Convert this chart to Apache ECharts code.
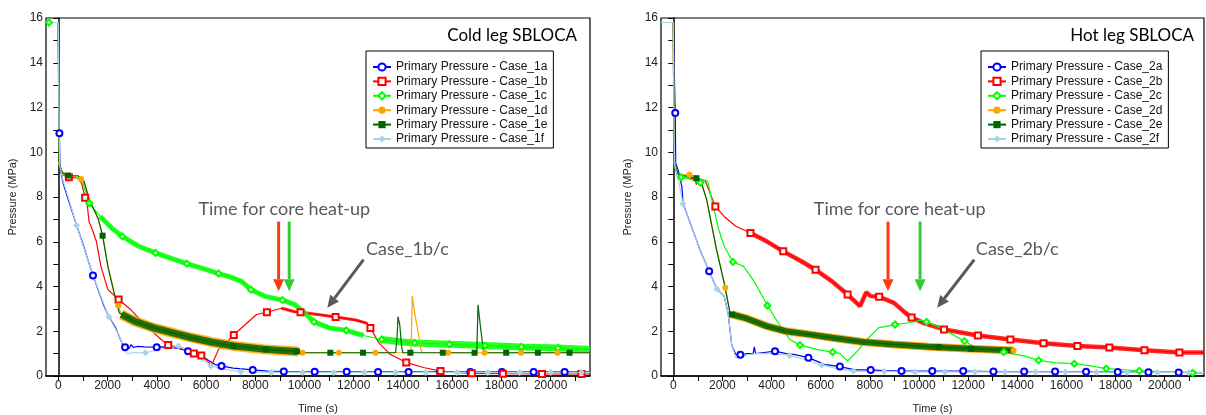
<!DOCTYPE html>
<html><head><meta charset="utf-8">
<script src="https://cdn.jsdelivr.net/npm/echarts@6/dist/echarts.min.js"></script>
<style>html,body{margin:0;padding:0;background:#fff}#c{width:1206px;height:415px}</style>
</head><body><div id="c"></div>
<script>
// ---------- axis ticks / labels ----------
const xTicks = [0,1000,2000,3000,4000,5000,6000,7000,8000,9000,10000,11000,12000,13000,14000,15000,16000,17000,18000,19000,20000,21000];
const xLabels = [0,2000,4000,6000,8000,10000,12000,14000,16000,18000,20000];
const yTicks = [0,1,2,3,4,5,6,7,8,9,10,11,12,13,14,15,16];
const yLabels = [0,2,4,6,8,10,12,14,16];

const namesCold = ['Primary Pressure - Case_1a','Primary Pressure - Case_1b','Primary Pressure - Case_1c','Primary Pressure - Case_1d','Primary Pressure - Case_1e','Primary Pressure - Case_1f'];
const namesHot  = ['Primary Pressure - Case_2a','Primary Pressure - Case_2b','Primary Pressure - Case_2c','Primary Pressure - Case_2d','Primary Pressure - Case_2e','Primary Pressure - Case_2f'];

// ---------- data: [time s, pressure MPa, marker flag] ----------
const case1a = [[-500,15.8],[0,15.8],[20,13],[45,10.85,1],[70,9.3],[200,8.6],[400,7.9],[745,6.73],[1000,5.9],[1200,5.2],[1410,4.49,1],[1650,3.75],[1850,3.15],[2060,2.64],[2330,2.15],[2500,1.7],[2630,1.34],[2712,1.29,1],[2800,1.38],[2870,1.22],[2950,1.4],[3050,1.28],[3200,1.32],[3500,1.3],[3998,1.29,1],[4400,1.3],[4800,1.25],[5270,1.11,1],[5600,1.0],[5950,0.8],[6350,0.52],[6630,0.45,1],[7100,0.35],[7900,0.27,1],[8500,0.22],[9160,0.2,1],[10414,0.19,1],[11716,0.19,1],[12990,0.18,1],[14230,0.18,1],[15500,0.18,1],[16740,0.18,1],[18020,0.18,1],[19310,0.18,1],[20570,0.18,1],[21600,0.18]];
const case1b = [[-500,15.8],[0,15.8],[25,9.5],[150,9.0],[430,8.88,1],[800,8.85],[950,8.6],[1090,7.97,1],[1180,7.6],[1250,6.9],[1395,6.5],[1550,6.0],[1730,4.9],[2015,3.86],[2450,3.42,1],[2940,2.97],[3570,2.23],[4180,1.63],[4465,1.38,1],[5125,1.22],[5505,1.01,1],[5810,0.92,1],[6120,0.6],[6230,0.48],[6510,1.19],[6815,1.49],[7130,1.83,1],[7595,2.3],[8055,2.75],[8475,2.85,1],[9070,3.03],[9610,2.87],[9840,2.85,1],[10540,2.75],[11265,2.64,1],[12085,2.5],[12555,2.35],[12680,2.15,1],[13015,1.49],[13480,0.97],[14135,0.6,1],[14880,0.37],[15530,0.22,1],[16280,0.15],[16800,0.12,1],[18060,0.1,1],[19650,0.09,1],[21250,0.09,1],[21600,0.09]];
const case1c = [[-500,15.8],[-380,15.8,1],[0,15.8],[25,9.5],[200,9.0],[700,8.9],[1000,8.6],[1262,7.72,1],[1700,7.13],[2170,6.61],[2600,6.24,1],[3255,5.8],[3950,5.5,1],[4650,5.23],[5220,5.02,1],[5890,4.8],[6510,4.58,1],[6970,4.43],[7440,4.23],[7825,3.86,1],[8370,3.57],[9110,3.39,1],[9610,3.19],[10075,2.75],[10385,2.42,1],[11005,2.15],[11700,2.04,1],[12400,1.81],[13140,1.63,1],[13950,1.52],[14480,1.48,1],[15890,1.42,1],[17340,1.36,1],[18810,1.3,1],[20300,1.25,1],[21600,1.18]];
const case1d = [[-500,15.8],[0,15.8],[25,9.5],[200,9.0],[600,8.95],[930,8.81,1],[1100,8.5],[1250,7.9],[1630,7.0],[1800,6.27],[2015,4.9],[2325,3.42],[2435,3.15,1],[2560,2.75],[3100,2.45],[3875,2.15],[4650,1.93],[5420,1.71],[6200,1.52],[7130,1.34],[8370,1.19],[9765,1.1],[9840,1.04],[9920,1.04,1],[11400,1.04,1],[12880,1.04,1],[14330,1.05],[14380,3.57],[14450,3.0],[14700,1.4],[14760,1.05],[15840,1.04,1],[17320,1.04,1],[18800,1.04,1],[20280,1.04,1],[21600,1.04]];
const case1e = [[-500,15.8],[0,15.8],[25,9.6],[150,9.1],[390,8.96,1],[800,8.95],[1050,8.7],[1240,7.94],[1630,7.0],[1800,6.27,1],[2015,4.9],[2330,3.42],[2480,2.82],[2560,2.75],[3100,2.45],[3875,2.15],[4650,1.93],[5420,1.71],[6200,1.52],[7130,1.34,1],[8430,1.19,1],[9700,1.1,1],[9800,1.04],[11050,1.04,1],[12380,1.04,1],[13700,1.04],[13760,1.7],[13800,2.65],[13870,2.3],[13950,1.3],[14000,1.04],[14300,1.04,1],[15620,1.04,1],[16910,1.04,1],[17000,1.04],[17050,3.18],[17150,2.2],[17280,1.04],[18195,1.04,1],[19485,1.04,1],[20770,1.04,1],[21600,1.04]];
const case1f = [[-500,15.8],[0,15.8],[30,11],[60,9.4],[200,8.7],[400,8.0],[745,6.73,1],[1000,5.85],[1410,4.5],[1750,3.5],[2060,2.64,1],[2480,1.78],[2660,1.2],[2790,1.0],[3100,1.05],[3535,1.04,1],[4000,1.15],[4500,1.25],[4880,1.34,1],[5300,1.1],[5750,0.8],[6200,0.45,1],[6750,0.3],[7410,0.19,1],[8650,0.16,1],[9920,0.16,1],[11190,0.16,1],[12440,0.16,1],[13700,0.16,1],[14920,0.16,1],[16190,0.16,1],[17450,0.16,1],[18740,0.16,1],[20000,0.16,1],[21250,0.16,1],[21600,0.16]];

const case2a = [[-500,15.8],[0,15.8],[30,14],[80,11.75,1],[100,9.5],[200,9.2],[350,8.46],[400,7.7],[800,6.5],[1100,5.6],[1460,4.68,1],[1775,3.89],[2070,3.57],[2230,2.82],[2385,1.34],[2545,0.97],[2730,0.95,1],[3000,1.0],[3250,1.0],[3300,1.3],[3350,1.0],[3700,1.05],[4140,1.11,1],[4600,1.0],[4900,0.97],[5500,0.82,1],[6150,0.52],[6780,0.42,1],[7400,0.27],[8035,0.27,1],[8600,0.24],[9290,0.22,1],[10540,0.22,1],[11800,0.22,1],[13030,0.2,1],[14280,0.2,1],[15540,0.2,1],[16800,0.19,1],[18090,0.18,1],[19340,0.17,1],[20570,0.16,1],[21600,0.15]];
const case2b = [[-500,15.8],[0,15.8],[30,9.5],[200,8.85],[600,8.85],[880,8.8],[940,8.55],[1000,8.8],[1290,8.75],[1711,7.58,1],[2070,7.13],[2545,6.69],[3140,6.39,1],[3800,6.02],[4475,5.57,1],[5210,5.13],[5790,4.75,1],[6460,4.23],[7095,3.64,1],[7600,3.12],[7850,3.74],[8035,3.57],[8380,3.54,1],[8980,3.27],[9450,2.82],[9700,2.61,1],[10230,2.35],[11020,2.08,1],[12400,1.81,1],[13720,1.63,1],[15070,1.46,1],[16450,1.34,1],[17750,1.27,1],[19175,1.15,1],[20600,1.05,1],[21600,1.05]];
const case2c = [[-500,15.8],[0,15.8],[30,9.5],[150,9.0],[315,8.88,1],[700,8.8],[1100,8.64,1],[1300,8.75],[1400,8.7],[1600,7.73],[1835,6.6],[2070,5.8],[2430,5.1,1],[2860,4.9],[3330,4.16],[3830,3.15,1],[4270,2.38],[4740,1.63],[5160,1.38,1],[5840,1.19],[6485,1.07,1],[6780,1.01],[7100,0.67],[7490,1.11],[7880,1.63],[8350,2.15],[9025,2.3,1],[9600,2.38],[10080,2.5],[10310,2.42,1],[10860,2.15],[11850,1.56,1],[12200,1.34],[12750,1.11],[13450,1.07,1],[14310,0.89],[14870,0.7,1],[15570,0.59],[16320,0.55,1],[16980,0.45],[17620,0.33,1],[18390,0.28],[18970,0.23,1],[20050,0.19],[21140,0.14,1],[21600,0.14]];
const case2d = [[-500,15.8],[0,15.8],[30,9.6],[200,9.0],[656,8.99,1],[1000,8.9],[1100,8.8],[1360,7.87],[1760,5.65],[2120,3.94,1],[2310,2.82],[2385,2.75],[3015,2.56],[3800,2.23],[4585,2.0],[5525,1.86],[6460,1.71],[7725,1.52],[8980,1.41],[10390,1.31],[12120,1.22],[13850,1.14,1]];
const case2e = [[-500,15.8],[0,15.8],[30,9.6],[200,9.0],[940,8.84,1],[1100,8.8],[1360,7.87],[1760,5.65],[2070,4.16],[2310,2.82],[2385,2.75,1],[3015,2.56],[3800,2.23],[4585,2.0],[5525,1.86],[6460,1.71],[7725,1.52],[8980,1.41],[10390,1.31],[10800,1.29,1],[12120,1.22,1],[13850,1.14]];
const case2f = [[-500,15.8],[0,15.8],[30,11],[60,9.4],[200,8.8],[394,7.7,1],[800,6.5],[1100,5.6],[1460,4.68],[1775,3.89,1],[2070,3.57],[2230,2.82],[2385,1.34],[2545,0.82],[2800,0.85],[3000,0.95],[3400,1.0],[4000,1.0],[4737,0.92,1],[5300,0.75],[6043,0.49,1],[6600,0.35],[7330,0.22,1],[8585,0.2,1],[9840,0.18,1],[11060,0.18,1],[12270,0.18,1],[13500,0.18,1],[14740,0.18,1],[15960,0.18,1],[17220,0.17,1],[18470,0.17,1],[19715,0.16,1],[20975,0.16,1],[21600,0.16]];

// noisy ranges [tStart, tEnd] drawn as a wider trace
const noise1b = [9000, 12560];
const noise1c = [1500, 13000];
const noise1cTail = [13000, 21600];
const noise1d = [2560, 9765];
const noise1e = [2560, 9700];
const noise2b = [3000, 21600];
const noise2d = [2385, 13850];
const noise2e = [2385, 13850];

// annotation anchors in data coordinates
const noteText = 'Time for core heat-up';
const noteCold = {text:[9180, 7.46], red:[8950, 6.9, 3.79], green:[9380, 6.9, 3.79], label:[14180, 5.68], grayFrom:[12400, 5.2], grayTo:[10930, 3.05], caseName:'Case_1b/c'};
const noteHot  = {text:[9215, 7.46], red:[8740, 6.9, 3.79], green:[10045, 6.9, 3.79], label:[14000, 5.68], grayFrom:[12250, 5.2], grayTo:[10740, 3.05], caseName:'Case_2b/c'};

// ---------- chart ----------
const colors = ['#0000ff','#ff0000','#00ff00','#ffa500','#006400','#a8d4e6'];
const symbols = ['emptyCircle','emptyRect','emptyDiamond','circle','rect','diamond'];
const AX = 'Liberation Sans, Arial, sans-serif';

function mainSeries(name, arr, k, g) {
  return {
    type:'line', name, xAxisIndex:g, yAxisIndex:g,
    data: arr.map(d => d[2] ? {value:[d[0], d[1]]} : {value:[d[0], d[1]], symbol:'none'}),
    symbol: symbols[k], symbolSize: k === 5 ? 7 : 6, showSymbol:true,
    lineStyle:{color: colors[k], width:1.2},
    itemStyle:{color: colors[k], borderColor: colors[k], borderWidth: k >= 3 ? 0 : 1.3},
    emphasis:{disabled:true}, silent:true
  };
}
function bandSeries(arr, range, k, g, w) {
  return {
    type:'line', name:'band', xAxisIndex:g, yAxisIndex:g,
    data: arr.filter(d => d[0] >= range[0] && d[0] <= range[1]).map(d => [d[0], d[1]]),
    symbol:'none', lineStyle:{color: colors[k], width:w, opacity:0.85}, emphasis:{disabled:true}, silent:true
  };
}

const series = [
  mainSeries(namesCold[0], case1a, 0, 0),
  bandSeries(case1b, noise1b, 1, 0, 3), mainSeries(namesCold[1], case1b, 1, 0),
  bandSeries(case1c, noise1c, 2, 0, 5), bandSeries(case1c, noise1cTail, 2, 0, 7), mainSeries(namesCold[2], case1c, 2, 0),
  bandSeries(case1d, noise1d, 3, 0, 10), mainSeries(namesCold[3], case1d, 3, 0),
  bandSeries(case1e, noise1e, 4, 0, 7), mainSeries(namesCold[4], case1e, 4, 0),
  mainSeries(namesCold[5], case1f, 5, 0),

  mainSeries(namesHot[0], case2a, 0, 1),
  bandSeries(case2b, noise2b, 1, 1, 4.5), mainSeries(namesHot[1], case2b, 1, 1),
  mainSeries(namesHot[2], case2c, 2, 1),
  bandSeries(case2d, noise2d, 3, 1, 8), mainSeries(namesHot[3], case2d, 3, 1),
  bandSeries(case2e, noise2e, 4, 1, 6), mainSeries(namesHot[4], case2e, 4, 1),
  mainSeries(namesHot[5], case2f, 5, 1)
];

function xAxis(g) {
  return {
    gridIndex:g, type:'value', min:-500, max:21600,
    axisLine:{onZero:false, lineStyle:{color:'#000', width:1.5}},
    axisTick:{customValues:xTicks, length:5, lineStyle:{color:'#000', width:1}},
    axisLabel:{customValues:xLabels, formatter: v => String(v), fontFamily:AX, fontSize:12, color:'#222', margin:4},
    splitLine:{show:false},
    name:'Time (s)', nameLocation:'middle', nameGap:27,
    nameTextStyle:{fontFamily:AX, fontSize:11, color:'#222'}
  };
}
function yAxis(g) {
  return {
    gridIndex:g, type:'value', min:0, max:16,
    axisLine:{lineStyle:{color:'#000', width:1.5}},
    axisTick:{customValues:yTicks, length:5, lineStyle:{color:'#000', width:1}},
    axisLabel:{customValues:yLabels, formatter: v => String(v), fontFamily:AX, fontSize:12, color:'#222', margin:3},
    splitLine:{show:false},
    name:'Pressure (MPa)', nameLocation:'middle', nameGap:28, nameRotate:90,
    nameTextStyle:{fontFamily:AX, fontSize:11, color:'#222'}
  };
}
function legend(names, left) {
  return {
    data:names, left:left, top:51, orient:'vertical', selectedMode:false,
    itemWidth:18, itemHeight:9, itemGap:2.4, padding:[10,6,3,6],
    borderColor:'#000', borderWidth:1, backgroundColor:'#fff',
    textStyle:{fontFamily:AX, fontSize:12, color:'#111'}
  };
}

const chart = echarts.init(document.getElementById('c'), null, {renderer:'canvas'});
chart.setOption({
  animation:false,
  backgroundColor:'#fff',
  grid:[
    {left:46, top:18, width:544, height:358, outerBoundsMode:'none', containLabel:false, show:true, borderColor:'#000', borderWidth:1.2, backgroundColor:'transparent'},
    {left:661, top:18, width:543, height:358, outerBoundsMode:'none', containLabel:false, show:true, borderColor:'#000', borderWidth:1.2, backgroundColor:'transparent'}
  ],
  xAxis:[xAxis(0), xAxis(1)],
  yAxis:[yAxis(0), yAxis(1)],
  legend:[legend(namesCold, 366), legend(namesHot, 981)],
  series
});

// ---------- annotations ----------
const NOTE_FONT = 'Lato, "Open Sans", sans-serif';
function px(g, t, p) { return chart.convertToPixel({gridIndex:g}, [t, p]); }
function arrow(g, from, to, color) {
  const a = px(g, from[0], from[1]), b = px(g, to[0], to[1]);
  const dx = b[0]-a[0], dy = b[1]-a[1], L = Math.hypot(dx, dy), ux = dx/L, uy = dy/L;
  const hl = 12, hw = 5.5;
  const bx = b[0]-ux*hl, by = b[1]-uy*hl;
  return [
    {type:'line', z:100, shape:{x1:a[0], y1:a[1], x2:bx, y2:by}, style:{stroke:color, lineWidth:3}},
    {type:'polygon', z:100, shape:{points:[[b[0],b[1]],[bx-uy*hw, by+ux*hw],[bx+uy*hw, by-ux*hw]]}, style:{fill:color}}
  ];
}
function notes(g, n) {
  const t = px(g, n.text[0], n.text[1]);
  const l = px(g, n.label[0], n.label[1]);
  return [
    {type:'text', z:100, x:t[0], y:t[1], style:{text:noteText, fill:'#595959', font:'18px ' + NOTE_FONT, align:'center', verticalAlign:'middle'}},
    {type:'text', z:100, x:l[0], y:l[1], style:{text:n.caseName, fill:'#595959', font:'18px ' + NOTE_FONT, align:'center', verticalAlign:'middle'}},
    ...arrow(g, [n.red[0], n.red[1]], [n.red[0], n.red[2]], '#ff3b12'),
    ...arrow(g, [n.green[0], n.green[1]], [n.green[0], n.green[2]], '#33cc33'),
    ...arrow(g, n.grayFrom, n.grayTo, '#595959')
  ];
}
chart.setOption({
  graphic: [
    {type:'text', z:100, x:577, y:36, style:{text:'Cold leg SBLOCA', fill:'#000', font:'17px ' + NOTE_FONT, align:'right', verticalAlign:'middle'}},
    {type:'text', z:100, x:1194, y:36, style:{text:'Hot leg SBLOCA', fill:'#000', font:'17px ' + NOTE_FONT, align:'right', verticalAlign:'middle'}},
    ...notes(0, noteCold),
    ...notes(1, noteHot)
  ]
});
</script>
</body></html>
